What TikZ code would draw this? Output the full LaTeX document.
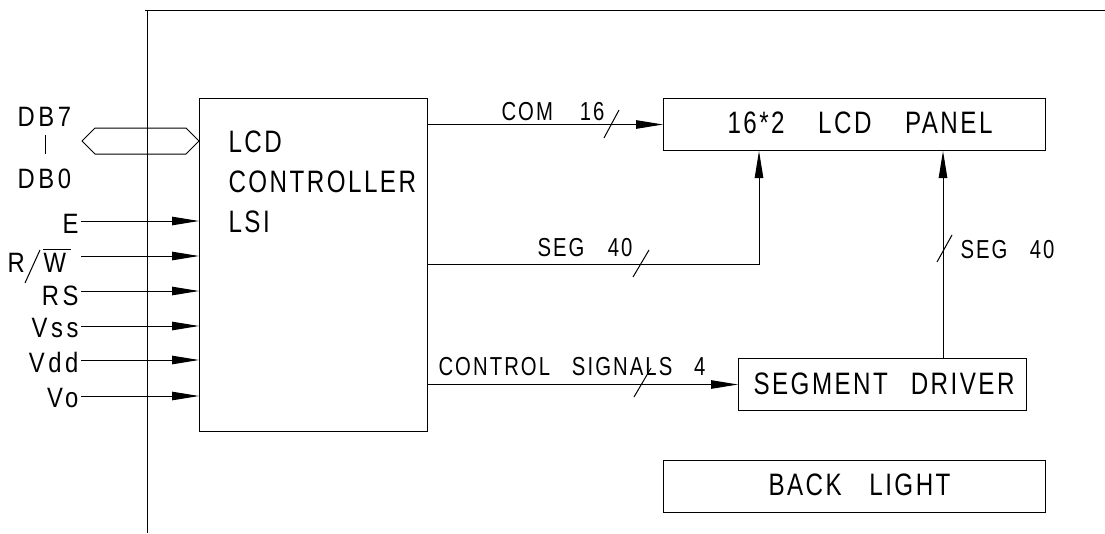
\documentclass[tikz,border=0pt]{standalone}
\usepackage{fontspec}
\usetikzlibrary{arrows.meta}
\newfontfamily\cadfont[FakeStretch=0.78,LetterSpace=8]{Liberation Sans}
\newfontfamily\cadfontB[FakeStretch=0.85,LetterSpace=13]{Liberation Sans}
\newcommand\fitto[2]{\makebox[#1][s]{#2}}
\begin{document}
\begin{tikzpicture}[x=1pt,y=-1pt,
  line width=1pt,
  box/.style={draw, line width=1pt, inner sep=0pt, anchor=north west},
  boxlbl/.style={font=\cadfont\fontsize{31}{34}\selectfont, inner sep=0pt},
  inlbl/.style={font=\cadfontB\fontsize{28}{30}\selectfont, inner sep=0pt},
  lnlbl/.style={font=\cadfont\fontsize{26}{28}\selectfont, inner sep=0pt},
  arr/.style={-{Triangle[length=27pt,width=8.5pt]}},
  ]
\useasboundingbox (0,0) rectangle (1105,533);
% frame lines
\coordinate (tl) at (145,10);
\coordinate (tr) at (1105,10);
\coordinate (vt) at (147,10);
\coordinate (vb) at (147,533);
\draw (tl) -- (tr);
\draw (vt) -- (vb);
% boxes
\node[box, minimum width=228pt, minimum height=333pt] (ctrl) at (199,98) {};
\node[box, minimum width=382pt, minimum height=52pt] (panel) at (663,98) {};
\node[box, minimum width=288pt, minimum height=52pt] (sd) at (738,358) {};
\node[box, minimum width=382pt, minimum height=52pt] (bl) at (663,460) {};
% box texts
\node[boxlbl, anchor=base west] (t1) at (228,152) {LCD};
\node[boxlbl, anchor=base west] (t2) at (228,192) {CONTROLLER};
\node[boxlbl, anchor=base west] (t3) at (228,232) {LSI};
\node[boxlbl, anchor=base west] (tp) at (727,133) {\fitto{265pt}{16*2 LCD PANEL}};
\node[boxlbl, anchor=base west] (tsd) at (753,394) {\fitto{261pt}{SEGMENT DRIVER}};
\node[boxlbl, anchor=base west] (tbl) at (768,495) {\fitto{182pt}{BACK LIGHT}};
% bus
\draw (82,141) -- (95,128) -- (186,128) -- (ctrl.west |- 0,141) -- (186,154) -- (95,154) -- cycle;
\node[inlbl, anchor=base west] (db7) at (17,126) {DB7};
\node[inlbl, anchor=base west] (db0) at (17,188) {DB0};
\coordinate (bara) at (45,135);
\coordinate (barb) at (45,154);
\draw (bara) -- (barb);
% inputs
\foreach \n/\t/\y/\b in {e/E/221/233, rs/RS/291/305, vss/Vss/326/337, vdd/Vdd/360/372, vo/Vo/396/407}{
  \node[inlbl, anchor=base east] (\n) at (79,\b) {\t};
  \coordinate (\n s) at (81,\y);
  \draw[arr] (\n s) -- (ctrl.west |- \n s);
}
% R / W-bar
\node[inlbl, anchor=base west] (rwR) at (7,272) {R};
\node[inlbl, anchor=base west] (rwW) at (43,272) {W};
\coordinate (rwsa) at (25,283);
\coordinate (rwsb) at (40,250);
\draw (rwsa) -- (rwsb);
\coordinate (rwoa) at (43,249);
\coordinate (rwob) at (71,249);
\draw (rwoa) -- (rwob);
\coordinate (rws) at (81,256);
\draw[arr] (rws) -- (ctrl.west |- rws);
% COM 16
\coordinate (comA) at (ctrl.east |- panel.west);
\draw[arr] (comA) -- (panel.west);
\node[lnlbl, anchor=base west] (lcom) at (501,120) {\fitto{103pt}{COM 16}};
\coordinate (s1a) at (604,138);
\coordinate (s1b) at (619,110);
\draw (s1a) -- (s1b);
% SEG 40 (controller to panel)
\coordinate (segA) at (427,264);
\coordinate (segB) at (759,264);
\draw[arr] (segA) -- (segB) -- (segB |- panel.south);
\node[lnlbl, anchor=base west] (lseg1) at (537,256) {\fitto{95pt}{SEG 40}};
\coordinate (s2a) at (633,277);
\coordinate (s2b) at (649,250);
\draw (s2a) -- (s2b);
% SEG 40 (driver to panel)
\coordinate (sdA) at (943,358);
\draw[arr] (sdA) -- (sdA |- panel.south);
\node[lnlbl, anchor=base west] (lseg2) at (960,258) {\fitto{94pt}{SEG 40}};
\coordinate (s3a) at (937,262);
\coordinate (s3b) at (952,235);
\draw (s3a) -- (s3b);
% control signals
\coordinate (csA) at (ctrl.east |- sd.west);
\draw[arr] (csA) -- (sd.west);
\node[lnlbl, anchor=base west] (lcs) at (438,375) {\fitto{267pt}{CONTROL SIGNALS 4}};
\coordinate (s4a) at (634,397);
\coordinate (s4b) at (651,368);
\draw (s4a) -- (s4b);
\end{tikzpicture}
\end{document}
